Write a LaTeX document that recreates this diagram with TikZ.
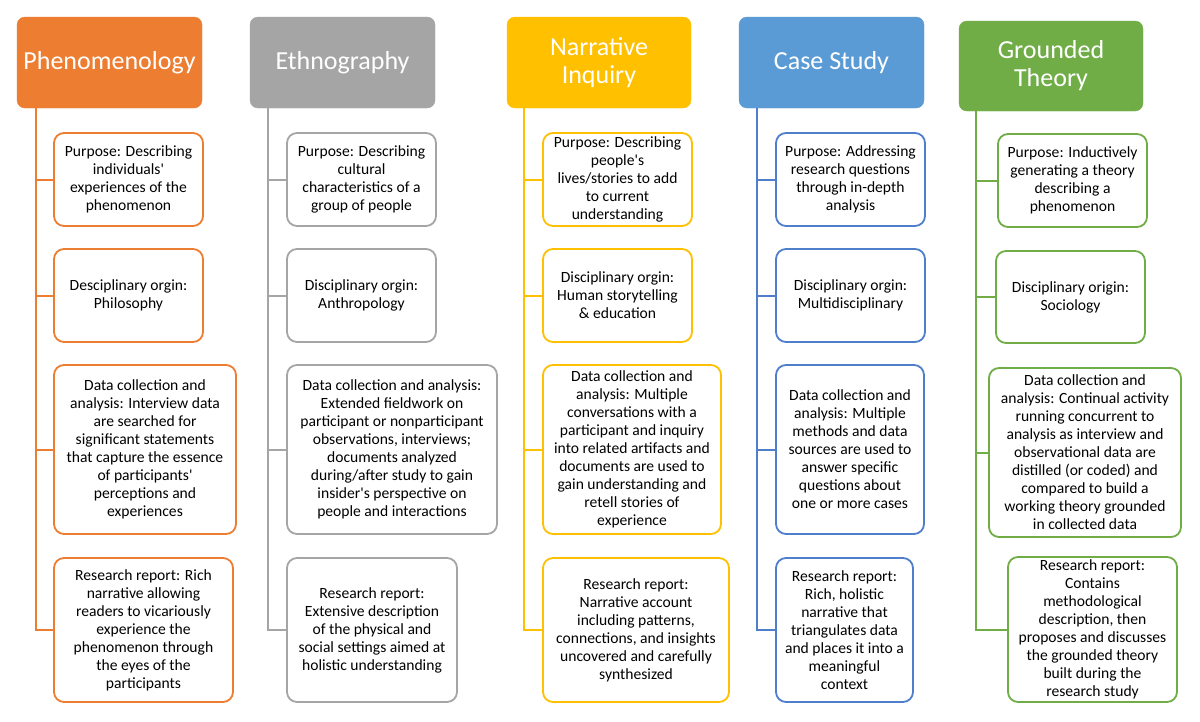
\documentclass[tikz,border=0pt]{standalone}
\usepackage{fontspec}
\setmainfont{Carlito}
\definecolor{phcol}{HTML}{ED7D31}
\definecolor{etcol}{HTML}{A5A5A5}
\definecolor{nacol}{HTML}{FFC000}
\definecolor{cscol}{HTML}{5B9BD5}
\definecolor{csline}{HTML}{4F7FCB}
\definecolor{gtcol}{HTML}{70AD47}
\newcommand{\q}{\textquotesingle}
\tikzset{
  head/.style={draw=#1, fill=#1, rounded corners=8pt, text=white, align=center,
    font=\fontsize{26}{28}\selectfont, inner sep=0pt},
  cell/.style={draw=#1, fill=white, line width=1.8pt, rounded corners=10pt, align=center,
    font=\fontsize{15.6}{18}\selectfont, inner sep=0pt},
  link/.style={draw=#1, line width=2pt},
}
\begin{document}
\begin{tikzpicture}[x=1pt,y=-1pt]
  \fill[white] (0,0) rectangle (1200,721);
  \useasboundingbox (0,0) rectangle (1200,721);
  % Phenomenology
  \node[head=phcol, minimum width=185pt, minimum height=91pt] (ph) at (109.5,62.5) {Phenomenology};
  \coordinate (ph0) at (36,108);
  \node[cell=phcol, minimum width=149pt, minimum height=93pt] (ph1) at (128.5,179.5) {Purpose: Describing\\ individuals\q\\ experiences of the\\ phenomenon};
  \node[cell=phcol, minimum width=149pt, minimum height=93pt] (ph2) at (128.5,295.5) {Desciplinary orgin:\\ Philosophy};
  \node[cell=phcol, minimum width=182pt, minimum height=169pt] (ph3) at (145,449.5) {Data collection and\\ analysis: Interview data\\ are searched for\\ significant statements\\ that capture the essence\\ of participants\q\\ perceptions and\\ experiences};
  \node[cell=phcol, minimum width=179pt, minimum height=144pt] (ph4) at (143.5,630) {Research report: Rich\\ narrative allowing\\ readers to vicariously\\ experience the\\ phenomenon through\\ the eyes of the\\ participants};
  \draw[link=phcol] (ph0) |- (ph4.west);
  \foreach \k in {1,2,3} \draw[link=phcol] (ph0 |- ph\k.west) -- (ph\k.west);
  % Ethnography
  \node[head=etcol, minimum width=185pt, minimum height=91pt] (et) at (342.5,62.5) {Ethnography};
  \coordinate (et0) at (268,108);
  \node[cell=etcol, minimum width=149pt, minimum height=93pt] (et1) at (361.5,179.5) {Purpose: Describing\\ cultural\\ characteristics of a\\ group of people};
  \node[cell=etcol, minimum width=149pt, minimum height=93pt] (et2) at (361.5,295.5) {Disciplinary orgin:\\ Anthropology};
  \node[cell=etcol, minimum width=210pt, minimum height=169pt] (et3) at (392,449.5) {Data collection and analysis:\\ Extended fieldwork on\\ participant or nonparticipant\\ observations, interviews;\\ documents analyzed\\ during/after study to gain\\ insider\q s perspective on\\ people and interactions};
  \node[cell=etcol, minimum width=170pt, minimum height=144pt] (et4) at (372,630) {Research report:\\ Extensive description\\ of the physical and\\ social settings aimed at\\ holistic understanding};
  \draw[link=etcol] (et0) |- (et4.west);
  \foreach \k in {1,2,3} \draw[link=etcol] (et0 |- et\k.west) -- (et\k.west);
  % Narrative Inquiry
  \node[head=nacol, minimum width=184pt, minimum height=91pt] (na) at (599,62.5) {Narrative\\ Inquiry};
  \coordinate (na0) at (524,108);
  \node[cell=nacol, minimum width=149pt, minimum height=93pt] (na1) at (617.5,179.5) {Purpose: Describing\\ people\q s\\ lives/stories to add\\ to current\\ understanding};
  \node[cell=nacol, minimum width=149pt, minimum height=93pt] (na2) at (617.5,295.5) {Disciplinary orgin:\\ Human storytelling\\ \& education};
  \node[cell=nacol, minimum width=178pt, minimum height=169pt] (na3) at (632,449.5) {Data collection and\\ analysis: Multiple\\ conversations with a\\ participant and inquiry\\ into related artifacts and\\ documents are used to\\ gain understanding and\\ retell stories of\\ experience};
  \node[cell=nacol, minimum width=186pt, minimum height=144pt] (na4) at (636,630) {Research report:\\ Narrative account\\ including patterns,\\ connections, and insights\\ uncovered and carefully\\ synthesized};
  \draw[link=nacol] (na0) |- (na4.west);
  \foreach \k in {1,2,3} \draw[link=nacol] (na0 |- na\k.west) -- (na\k.west);
  % Case Study
  \node[head=cscol, minimum width=185pt, minimum height=91pt] (cs) at (831.5,62.5) {Case Study};
  \coordinate (cs0) at (757,108);
  \node[cell=csline, minimum width=149pt, minimum height=93pt] (cs1) at (850.5,179.5) {Purpose: Addressing\\ research questions\\ through in-depth\\ analysis};
  \node[cell=csline, minimum width=149pt, minimum height=93pt] (cs2) at (850.5,295.5) {Disciplinary orgin:\\ Multidisciplinary};
  \node[cell=csline, minimum width=148pt, minimum height=169pt] (cs3) at (850,449.5) {Data collection and\\ analysis: Multiple\\ methods and data\\ sources are used to\\ answer specific\\ questions about\\ one or more cases};
  \node[cell=csline, minimum width=137pt, minimum height=144pt] (cs4) at (844.5,630) {Research report:\\ Rich, holistic\\ narrative that\\ triangulates data\\ and places it into a\\ meaningful\\ context};
  \draw[link=csline] (cs0) |- (cs4.west);
  \foreach \k in {1,2,3} \draw[link=csline] (cs0 |- cs\k.west) -- (cs\k.west);
  % Grounded Theory
  \node[head=gtcol, minimum width=184pt, minimum height=90pt] (gt) at (1051,66) {Grounded\\ Theory};
  \coordinate (gt0) at (976,111);
  \node[cell=gtcol, minimum width=149pt, minimum height=93pt] (gt1) at (1072.5,180.5) {Purpose: Inductively\\ generating a theory\\ describing a\\ phenomenon};
  \node[cell=gtcol, minimum width=149pt, minimum height=92pt] (gt2) at (1070.5,297) {Disciplinary origin:\\ Sociology};
  \node[cell=gtcol, minimum width=192pt, minimum height=169pt] (gt3) at (1085,452.5) {Data collection and\\ analysis: Continual activity\\ running concurrent to\\ analysis as interview and\\ observational data are\\ distilled (or coded) and\\ compared to build a\\ working theory grounded\\ in collected data};
  \node[cell=gtcol, minimum width=169pt, minimum height=145pt] (gt4) at (1092.5,629.5) {Research report:\\ Contains\\ methodological\\ description, then\\ proposes and discusses\\ the grounded theory\\ built during the\\ research study};
  \draw[link=gtcol] (gt0) |- (gt4.west);
  \foreach \k in {1,2,3} \draw[link=gtcol] (gt0 |- gt\k.west) -- (gt\k.west);
\end{tikzpicture}
\end{document}
